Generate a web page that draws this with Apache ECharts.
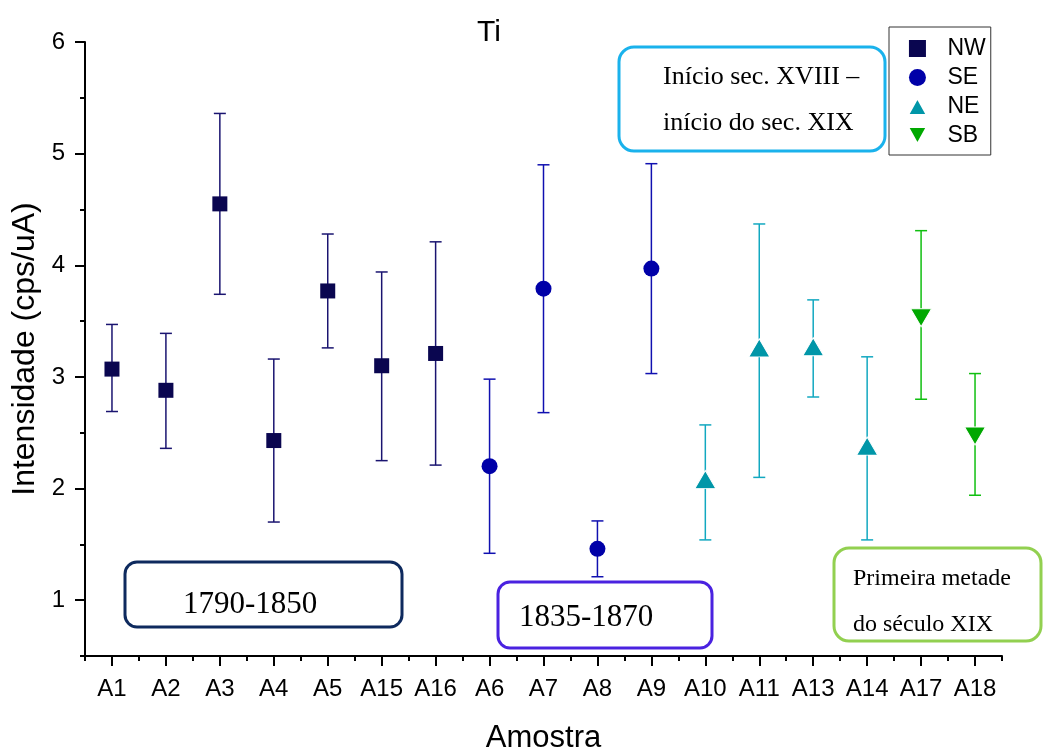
<!DOCTYPE html>
<html lang="pt">
<head>
    <meta charset="UTF-8">
    <title>Ti</title>
    <script src="https://cdn.jsdelivr.net/npm/echarts@6/dist/echarts.min.js"></script>
    <style type="text/css">
        html, body{
            margin: 0;
            padding: 0;
            background: #fff;
        }
        #main{
            width: 1043px;
            height: 751px;
        }
    </style>
</head>
<body>
    <div id="main"></div>
    <script>
        // amostras no eixo x
        var categories = ['A1', 'A2', 'A3', 'A4', 'A5', 'A15', 'A16', 'A6', 'A7', 'A8', 'A9', 'A10', 'A11', 'A13', 'A14', 'A17', 'A18'];
        var yMajorTicks = [1, 2, 3, 4, 5, 6];
        var yMinorTicks = [0.5, 1.5, 2.5, 3.5, 4.5, 5.5];

        // NW
        var nwSamples = ['A1', 'A2', 'A3', 'A4', 'A5', 'A15', 'A16'];
        var nwMean = [3.07, 2.88, 4.55, 2.43, 3.77, 3.10, 3.21];
        var nwLow  = [2.69, 2.36, 3.74, 1.70, 3.26, 2.25, 2.21];
        var nwHigh = [3.47, 3.39, 5.36, 3.16, 4.28, 3.94, 4.21];
        // SE
        var seSamples = ['A6', 'A7', 'A8', 'A9'];
        var seMean = [2.20, 3.79, 1.46, 3.97];
        var seLow  = [1.42, 2.68, 1.21, 3.03];
        var seHigh = [2.98, 4.90, 1.71, 4.91];
        // NE
        var neSamples = ['A10', 'A11', 'A13', 'A14'];
        var neMean = [2.08, 3.26, 3.27, 2.38];
        var neLow  = [1.54, 2.10, 2.82, 1.54];
        var neHigh = [2.57, 4.37, 3.69, 3.18];
        // SB
        var sbSamples = ['A17', 'A18'];
        var sbMean = [3.53, 2.47];
        var sbLow  = [2.80, 1.94];
        var sbHigh = [4.31, 3.03];

        var myChart = echarts.init(document.getElementById('main'));

        function points(samples, mean) {
            return samples.map(function (s, i) { return [s, mean[i]]; });
        }
        function bars(samples, low, high) {
            return samples.map(function (s, i) { return [s, low[i], high[i]]; });
        }
        // barra de erro: linha vertical + duas tampas
        function errorBar(color) {
            return function (params, api) {
                var x = api.value(0);
                var lo = api.coord([x, api.value(1)]);
                var hi = api.coord([x, api.value(2)]);
                var w = 6;
                var st = { stroke: color, lineWidth: 1.5 };
                return {
                    type: 'group',
                    children: [
                        { type: 'line', shape: { x1: lo[0], y1: lo[1], x2: hi[0], y2: hi[1] }, style: st },
                        { type: 'line', shape: { x1: hi[0] - w, y1: hi[1], x2: hi[0] + w, y2: hi[1] }, style: st },
                        { type: 'line', shape: { x1: lo[0] - w, y1: lo[1], x2: lo[0] + w, y2: lo[1] }, style: st }
                    ]
                };
            };
        }

        var colors = {
            NW: '#0a0650', SE: '#0000a8', NE: '#0096a8', SB: '#00a800'
        };
        var barColors = {
            NW: '#1a1470', SE: '#1010b0', NE: '#12a8c0', SB: '#10bf10'
        };
        var squareIcon = 'path://M0,0H10V10H0Z';
        var upIcon = 'path://M5,0L10,9L0,9Z';
        var downIcon = 'path://M0,0L10,0L5,9Z';

        function boxText(x, y, lines, size) {
            return lines.map(function (t, i) {
                return {
                    type: 'text', left: x, top: y + i * 46,
                    style: { text: t, font: size + 'px "Liberation Serif", "Times New Roman", serif', fill: '#000' }
                };
            });
        }

        var option = {
            backgroundColor: '#fff',
            animation: false,
            textStyle: { fontFamily: 'Arial, "Liberation Sans", sans-serif', color: '#000' },
            title: {
                text: 'Ti',
                left: 472,
                top: 13,
                textStyle: { fontSize: 30, fontWeight: 'normal', color: '#000', fontFamily: 'Arial, "Liberation Sans", sans-serif' }
            },
            legend: {
                orient: 'vertical',
                left: 889,
                top: 27,
                padding: [10, 5, 8, 18],
                itemGap: 6,
                itemWidth: 50,
                itemHeight: 17,
                symbolKeepAspect: true,
                borderColor: '#333',
                borderWidth: 1,
                textStyle: { fontSize: 23, color: '#000' },
                data: [
                    { name: 'NW', icon: squareIcon },
                    { name: 'SE', icon: 'circle' },
                    { name: 'NE', icon: upIcon },
                    { name: 'SB', icon: downIcon }
                ]
            },
            grid: { left: 85, right: 41, top: 42, bottom: 95, outerBoundsMode: 'none', containLabel: false },
            xAxis: [
                {
                    type: 'category',
                    data: categories,
                    name: 'Amostra',
                    nameLocation: 'middle',
                    nameGap: 67,
                    nameTextStyle: { fontSize: 31, color: '#000' },
                    axisLine: { show: true, lineStyle: { color: '#000', width: 2 } },
                    axisTick: { show: true, alignWithLabel: true, length: 10, interval: 0, lineStyle: { color: '#000', width: 2 } },
                    axisLabel: { interval: 0, fontSize: 24, color: '#000', margin: 21 },
                    splitLine: { show: false }
                },
                {
                    type: 'category',
                    data: categories,
                    position: 'bottom',
                    axisLine: { show: false },
                    axisTick: { show: true, alignWithLabel: false, length: 5, interval: 0, lineStyle: { color: '#000', width: 2 } },
                    axisLabel: { show: false },
                    splitLine: { show: false }
                }
            ],
            yAxis: [
                {
                    type: 'value',
                    min: 0.5,
                    max: 6,
                    name: 'Intensidade (cps/uA)',
                    nameLocation: 'middle',
                    nameGap: 33,
                    nameTextStyle: { fontSize: 32, color: '#000' },
                    axisLine: { show: true, lineStyle: { color: '#000', width: 2 } },
                    axisTick: { show: true, length: 10, customValues: yMajorTicks, lineStyle: { color: '#000', width: 2 } },
                    axisLabel: { fontSize: 24, color: '#000', margin: 20, customValues: yMajorTicks },
                    splitLine: { show: false }
                },
                {
                    type: 'value',
                    min: 0.5,
                    max: 6,
                    position: 'left',
                    axisLine: { show: false },
                    axisTick: { show: true, length: 5, customValues: yMinorTicks, lineStyle: { color: '#000', width: 2 } },
                    axisLabel: { show: false },
                    splitLine: { show: false }
                }
            ],
            graphic: [
                { type: 'rect', shape: { x: 125, y: 562, width: 277, height: 65, r: 12 }, style: { fill: 'none', stroke: '#0e2a5e', lineWidth: 3 } },
                { type: 'rect', shape: { x: 498, y: 582, width: 214, height: 66, r: 12 }, style: { fill: 'none', stroke: '#4a22e0', lineWidth: 3 } },
                { type: 'rect', shape: { x: 619, y: 47, width: 266, height: 104, r: 15 }, style: { fill: 'none', stroke: '#1ab2ec', lineWidth: 3 } },
                { type: 'rect', shape: { x: 834, y: 548, width: 207, height: 93, r: 15 }, style: { fill: 'none', stroke: '#92d050', lineWidth: 3 } }
            ]
                .concat(boxText(183, 589, ['1790-1850'], 31))
                .concat(boxText(519, 602, ['1835-1870'], 31))
                .concat(boxText(663, 64, ['Início sec. XVIII –', 'início do sec. XIX'], 26))
                .concat(boxText(853, 567, ['Primeira metade', 'do século XIX'], 24)),
            series: [
                { name: 'NW err', type: 'custom', renderItem: errorBar(barColors.NW), data: bars(nwSamples, nwLow, nwHigh), encode: { x: 0, y: [1, 2] }, z: 1 },
                { name: 'SE err', type: 'custom', renderItem: errorBar(barColors.SE), data: bars(seSamples, seLow, seHigh), encode: { x: 0, y: [1, 2] }, z: 1 },
                { name: 'NE err', type: 'custom', renderItem: errorBar(barColors.NE), data: bars(neSamples, neLow, neHigh), encode: { x: 0, y: [1, 2] }, z: 1 },
                { name: 'SB err', type: 'custom', renderItem: errorBar(barColors.SB), data: bars(sbSamples, sbLow, sbHigh), encode: { x: 0, y: [1, 2] }, z: 1 },
                {
                    name: 'NW', type: 'scatter', symbol: squareIcon, symbolSize: 15, symbolKeepAspect: true,
                    itemStyle: { color: colors.NW, opacity: 1 }, data: points(nwSamples, nwMean), z: 3
                },
                {
                    name: 'SE', type: 'scatter', symbol: 'circle', symbolSize: 16,
                    itemStyle: { color: colors.SE, opacity: 1 }, data: points(seSamples, seMean), z: 3
                },
                {
                    name: 'NE', type: 'scatter', symbol: upIcon, symbolSize: [21, 18],
                    itemStyle: { color: colors.NE, opacity: 1, borderColor: '#fff', borderWidth: 1 }, data: points(neSamples, neMean), z: 3
                },
                {
                    name: 'SB', type: 'scatter', symbol: downIcon, symbolSize: [21, 18],
                    itemStyle: { color: colors.SB, opacity: 1, borderColor: '#fff', borderWidth: 1 }, data: points(sbSamples, sbMean), z: 3
                }
            ]
        };
        myChart.setOption(option);
    </script>
</body>
</html>
